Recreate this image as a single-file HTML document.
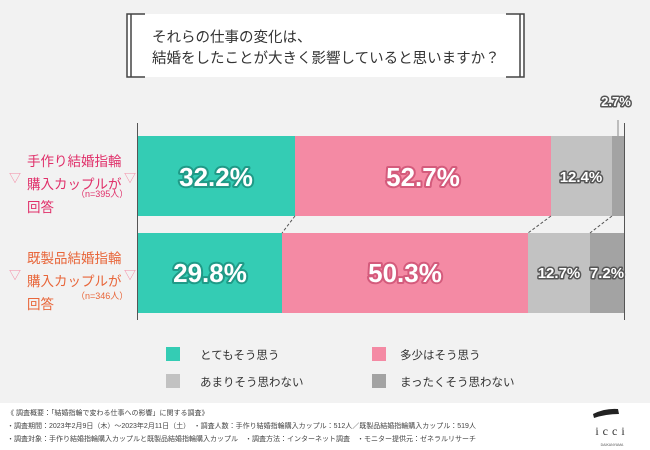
<!DOCTYPE html><html><head><meta charset="utf-8"><style>
body{margin:0;width:650px;height:450px;background:#f2f2f2;overflow:hidden;font-family:"Liberation Sans","Noto Sans CJK JP",sans-serif}
</style></head><body>
<svg width="650" height="450" xmlns="http://www.w3.org/2000/svg" style="position:absolute;left:0;top:0;font-family:'Liberation Sans','Noto Sans CJK JP',sans-serif">
<rect x="0" y="0" width="650" height="450" fill="#f2f2f2"/>
<rect x="127" y="14" width="397" height="63" fill="#fff"/>
<g stroke="#444" fill="none" stroke-width="1.5">
<path d="M145 14H127V77H145"/><line x1="131" y1="14" x2="131" y2="77"/>
<path d="M506 14H524V77H506"/><line x1="520" y1="14" x2="520" y2="77"/>
</g>
<text x="152" y="42" font-size="14.5" fill="#333">それらの仕事の変化は、</text>
<text x="152" y="63" font-size="14.5" fill="#333">結婚をしたことが大きく影響していると思いますか？</text>
<line x1="137.5" y1="123" x2="137.5" y2="320" stroke="#555" stroke-width="1"/>
<line x1="624.5" y1="123" x2="624.5" y2="320" stroke="#555" stroke-width="1"/>
<line x1="618" y1="120" x2="618" y2="136" stroke="#888" stroke-width="1"/>
<rect x="138" y="136" width="157" height="80" fill="#34ccb4"/>
<rect x="295" y="136" width="256" height="80" fill="#f48aa4"/>
<rect x="551" y="136" width="61" height="80" fill="#c2c2c2"/>
<rect x="612" y="136" width="12" height="80" fill="#a3a3a3"/>
<rect x="138" y="233" width="144" height="80" fill="#34ccb4"/>
<rect x="282" y="233" width="246" height="80" fill="#f48aa4"/>
<rect x="528" y="233" width="62" height="80" fill="#c2c2c2"/>
<rect x="590" y="233" width="34" height="80" fill="#a3a3a3"/>
<g stroke="#555" stroke-dasharray="3,2" stroke-width="1">
<line x1="295" y1="216" x2="282" y2="233"/><line x1="551" y1="216" x2="528" y2="233"/><line x1="612" y1="216" x2="590" y2="233"/>
</g>
<g font-weight="bold" fill="#fff" stroke-linejoin="round" paint-order="stroke" text-anchor="middle">
<text x="216" y="186" font-size="26" stroke="#1f9a87" stroke-width="4">32.2%</text>
<text x="423" y="186" font-size="26" stroke="#d45b7c" stroke-width="4">52.7%</text>
<text x="581" y="182" font-size="15" stroke="#555" stroke-width="3">12.4%</text>
<text x="616" y="106" font-size="13" stroke="#555" stroke-width="3">2.7%</text>
<text x="210" y="282" font-size="26" stroke="#1f9a87" stroke-width="4">29.8%</text>
<text x="405" y="282" font-size="26" stroke="#d45b7c" stroke-width="4">50.3%</text>
<text x="559" y="278" font-size="15" stroke="#555" stroke-width="3">12.7%</text>
<text x="607" y="278" font-size="15" stroke="#555" stroke-width="3">7.2%</text>
</g>
<g font-size="13.5" fill="#e0306a">
<text x="27" y="166">手作り結婚指輪</text>
<text x="27" y="189">購入カップルが</text>
<text x="27" y="212">回答</text>
<text x="76" y="197" font-size="9">（n=395人）</text>
</g>
<g font-size="13.5" fill="#e8663a">
<text x="27" y="263">既製品結婚指輪</text>
<text x="27" y="286">購入カップルが</text>
<text x="27" y="309">回答</text>
<text x="76" y="299" font-size="9">（n=346人）</text>
</g>
<g font-size="12" fill="#f48aa4">
<text x="9" y="182">▽</text><text x="124" y="182">▽</text>
<text x="9" y="279">▽</text><text x="124" y="279">▽</text>
</g>
<rect x="166" y="347" width="14" height="14" fill="#34ccb4"/>
<rect x="372" y="347" width="14" height="14" fill="#f48aa4"/>
<rect x="166" y="374" width="14" height="14" fill="#c2c2c2"/>
<rect x="372" y="374" width="14" height="14" fill="#a3a3a3"/>
<g font-size="11.5" fill="#333">
<text x="200" y="359">とてもそう思う</text>
<text x="400" y="359">多少はそう思う</text>
<text x="200" y="386">あまりそう思わない</text>
<text x="400" y="386">まったくそう思わない</text>
</g>
<rect x="0" y="403" width="650" height="47" fill="#fff"/>
<g font-size="7" fill="#444">
<text x="7" y="415">《 調査概要：「結婚指輪で変わる仕事への影響」に関する調査》</text>
<text x="7" y="428">・調査期間：2023年2月9日（木）～2023年2月11日（土）　・調査人数：手作り結婚指輪購入カップル：512人／既製品結婚指輪購入カップル：519人</text>
<text x="7" y="441">・調査対象：手作り結婚指輪購入カップルと既製品結婚指輪購入カップル　・調査方法：インターネット調査　・モニター提供元：ゼネラルリサーチ</text>
</g>
<path d="M593 414 Q605 408 618 409 L619 414 Q606 414 594 418Z" fill="#222"/>
<text x="612" y="435" font-size="12" fill="#333" text-anchor="middle" font-family="Liberation Serif,serif" letter-spacing="4">icci</text>
<text x="612" y="446" font-size="3.5" fill="#555" text-anchor="middle">DAIKANYAMA</text>
</svg>
</body></html>
